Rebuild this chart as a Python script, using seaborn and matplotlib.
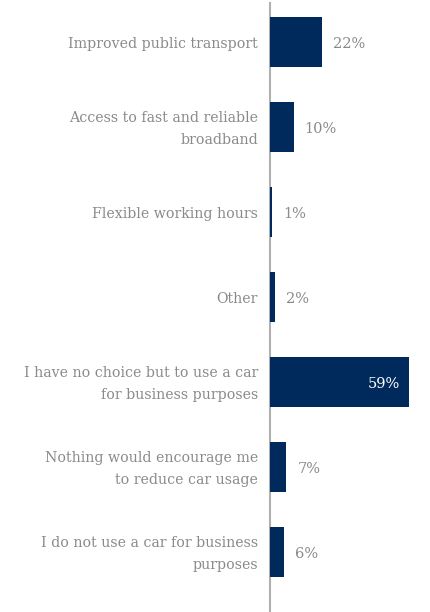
import matplotlib
matplotlib.use("Agg")
import matplotlib.pyplot as plt
import seaborn as sns
import pandas as pd

categories = [
    "Improved public transport",
    "Access to fast and reliable\nbroadband",
    "Flexible working hours",
    "Other",
    "I have no choice but to use a car\nfor business purposes",
    "Nothing would encourage me\nto reduce car usage",
    "I do not use a car for business\npurposes",
]
values = [22, 10, 1, 2, 59, 7, 6]
value_labels = ["22%", "10%", "1%", "2%", "59%", "7%", "6%"]

BAR = "#002a5c"
TEXT = "#8a8a8a"
FONT = "DejaVu Serif"

sns.set_theme(style="white")
plt.rcParams["font.family"] = [FONT]

df = pd.DataFrame({"category": categories, "value": values})

fig = plt.figure(figsize=(4.3, 6.12), dpi=100)
ax = fig.add_axes([270 / 430, 0.0, 160 / 430, 609 / 612])

sns.barplot(data=df, x="value", y="category", color=BAR, width=0.59,
            saturation=1, linewidth=0, ax=ax, orient="h")

ax.set_xlim(0, 68)
ax.set_ylim(6.706, -0.459)
ax.set_xlabel("")
ax.set_ylabel("")
ax.set_xticks([])
ax.set_yticks([])
for s in ["top", "right", "bottom"]:
    ax.spines[s].set_visible(False)
ax.spines["left"].set_color("#b0b0b0")
ax.spines["left"].set_linewidth(1.5)
ax.spines["left"].set_zorder(0)

for i, (cat, v, lab) in enumerate(zip(categories, values, value_labels)):
    ax.annotate(cat, xy=(0, i), xytext=(-12, -2), textcoords="offset pixels",
                ha="right", va="center", color=TEXT, fontsize=10.2,
                linespacing=1.8, annotation_clip=False)
    if v > 40:
        ax.annotate(lab, xy=(v, i), xytext=(-9, -2), textcoords="offset pixels",
                    ha="right", va="center", color="white", fontsize=10.5)
    else:
        ax.annotate(lab, xy=(v, i), xytext=(11, -2), textcoords="offset pixels",
                    ha="left", va="center", color=TEXT, fontsize=10.5)

fig.savefig("out.png", dpi=100)
